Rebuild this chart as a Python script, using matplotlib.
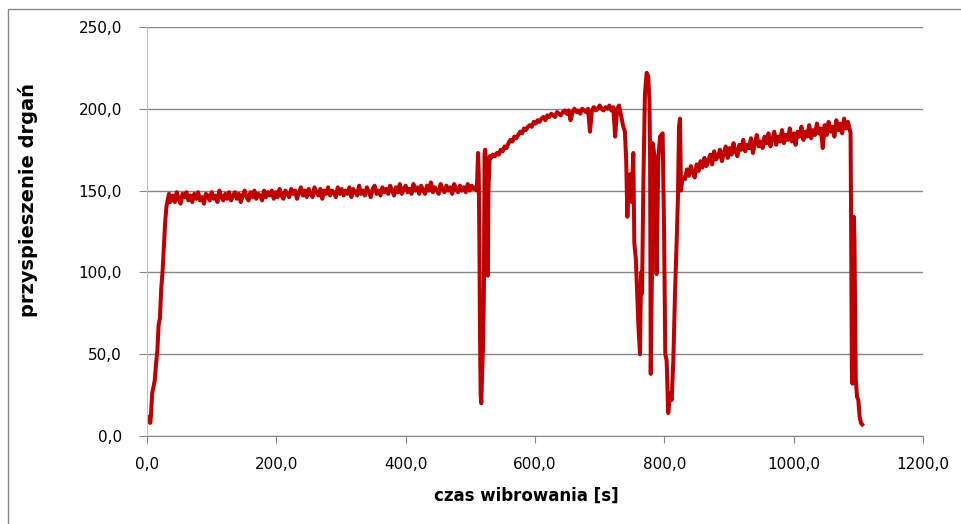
import numpy as np
import matplotlib
matplotlib.use('Agg')
import matplotlib.pyplot as plt
from matplotlib.patches import Rectangle

# ramp-up at the start
t_ramp = [0, 2, 4, 5, 6, 8, 10, 12, 14, 16, 18, 20, 22, 24, 26, 28, 30, 32, 34, 36]
v_ramp = [11, 9, 12, 8, 12, 26, 30, 34, 44, 52, 68, 72, 90, 100, 115, 130, 140, 144, 148, 143]

# first plateau, sampled every 3 s
t_plateau1 = np.arange(40, 509, 3)
v_plateau1 = [147, 143, 149, 145, 142, 148, 146, 149, 144, 147,
              143, 148, 145, 149, 144, 146, 142, 148, 147, 144,
              149, 145, 147, 143, 150, 146, 144, 148, 145, 149,
              144, 147, 149, 145, 148, 143, 147, 150, 146, 144,
              149, 146, 150, 145, 148, 147, 144, 150, 146, 149,
              147, 150, 145, 149, 146, 151, 147, 145, 150, 148,
              146, 151, 148, 150, 145, 149, 152, 147, 150, 146,
              151, 148, 146, 152, 149, 147, 151, 145, 150, 148,
              152, 147, 150, 149, 146, 152, 148, 151, 147, 150,
              148, 152, 146, 151, 149, 147, 153, 148, 150, 147,
              152, 149, 146, 151, 153, 148, 150, 147, 152, 149,
              151, 148, 153, 150, 147, 152, 149, 154, 148, 151,
              153, 149, 151, 148, 154, 150, 152, 148, 153, 150,
              148, 153, 150, 155, 149, 152, 150, 148, 154, 151,
              149, 153, 150, 152, 148, 154, 151, 149, 153, 150,
              152, 149, 154, 150, 153, 151, 152]

# first dip
t_dip1 = [510, 512, 513, 514, 515, 516, 517, 518, 520, 521, 522, 523, 524, 525, 526, 527, 528, 530]
v_dip1 = [150, 173, 160, 120, 60, 25, 20, 35, 60, 90, 172, 175, 168, 140, 100, 98, 150, 171]

# second plateau
t_plateau2 = np.arange(532, 733, 3)
v_plateau2 = [170, 172, 171, 173, 172, 175, 174, 177, 176, 179,
              181, 180, 183, 182, 184, 186, 185, 188, 187, 189,
              190, 189, 192, 191, 193, 192, 194, 195, 193, 196,
              195, 197, 196, 195, 198, 197, 196, 198, 199, 197,
              199, 193, 198, 200, 198, 199, 197, 200, 199, 198,
              200, 186, 199, 201, 199, 200, 202, 200, 199, 201,
              200, 202, 199, 201, 183, 200, 202]

# unstable part
t_unstable = [736, 739, 741, 742.8, 745, 747, 749.5, 752, 753.6, 756, 758, 760, 762.4, 764,
              765.5, 767.5, 770, 772.7, 775, 777, 778, 779, 781, 782, 785.6, 788, 790.7,
              793.3, 797.4, 799.5, 801.5, 803.6, 806, 808.8, 811.3, 813.9, 816.5, 819, 821,
              822.7, 824.2, 825.8, 827.5, 829.4]
v_unstable = [190, 186, 169, 134, 158, 160, 143, 173, 118, 108, 87, 67, 50, 100,
              87, 152, 209, 222, 220, 205, 169, 38, 108, 179, 169, 99, 169,
              183, 185, 128, 50, 46, 14, 26, 22, 46, 87, 118, 145,
              189, 194, 150, 156, 158]

# third plateau
t_plateau3 = np.arange(832, 1086, 3)
v_plateau3 = [157, 163, 159, 165, 161, 158, 166, 162, 168, 164,
              170, 165, 168, 172, 166, 174, 169, 171, 175, 168,
              173, 177, 170, 176, 172, 179, 174, 171, 178, 175,
              181, 174, 178, 176, 182, 173, 179, 184, 177, 180,
              176, 183, 179, 185, 177, 181, 186, 178, 183, 180,
              187, 179, 184, 181, 188, 180, 185, 178, 186, 183,
              189, 181, 186, 183, 190, 182, 187, 184, 191, 185,
              188, 176, 190, 184, 192, 186, 189, 183, 193, 187,
              191, 185, 194, 188, 192]

# switch-off
t_end = [1088, 1089, 1090, 1091, 1092, 1093, 1094, 1096, 1098, 1100, 1102, 1104, 1106]
v_end = [185, 120, 40, 32, 90, 134, 120, 35, 24, 22, 12, 8, 7]

x_ticks = [0, 200, 400, 600, 800, 1000, 1200]
x_tick_labels = ['0,0', '200,0', '400,0', '600,0', '800,0', '1000,0', '1200,0']
y_ticks = [0, 50, 100, 150, 200, 250]
y_tick_labels = ['0,0', '50,0', '100,0', '150,0', '200,0', '250,0']

t = np.concatenate([t_ramp, t_plateau1, t_dip1, t_plateau2, t_unstable, t_plateau3, t_end])
v = np.concatenate([v_ramp, v_plateau1, v_dip1, v_plateau2, v_unstable, v_plateau3, v_end])

fig = plt.figure(figsize=(9.61, 5.24), dpi=100)
ax = fig.add_axes([147 / 961, 1 - 436 / 524, 776 / 961, 409 / 524])

ax.plot(t, v, color='#C00000', linewidth=2.9)

ax.set_xlim(0, 1200)
ax.set_ylim(0, 250)
ax.set_xticks(x_ticks, x_tick_labels, fontsize=11)
ax.set_yticks(y_ticks, y_tick_labels, fontsize=11)
ax.yaxis.grid(True, color='#868686', linewidth=1)
ax.set_axisbelow(True)
for side in ['top', 'right']:
    ax.spines[side].set_visible(False)
ax.spines['left'].set_color('#c0c0c0')
ax.spines['bottom'].set_color('#868686')
ax.tick_params(axis='x', direction='out', length=5, color='#868686', pad=10)
ax.tick_params(axis='y', direction='out', length=6, color='#868686', pad=12)

ax.set_xlabel('czas wibrowania [s]', fontsize=12, fontweight='bold')
ax.set_ylabel('przyspieszenie drgań', fontsize=14, fontweight='bold')
ax.xaxis.set_label_coords((526 - 147) / 776, -0.125)
ax.yaxis.set_label_coords(-0.14, 0.577)

fig.patches.append(Rectangle((8 / 961, -0.1), 1.2, 1 - 9 / 524 + 0.1, transform=fig.transFigure,
                             fill=False, edgecolor='#868686', linewidth=1))

fig.savefig('out.png', dpi=100)
